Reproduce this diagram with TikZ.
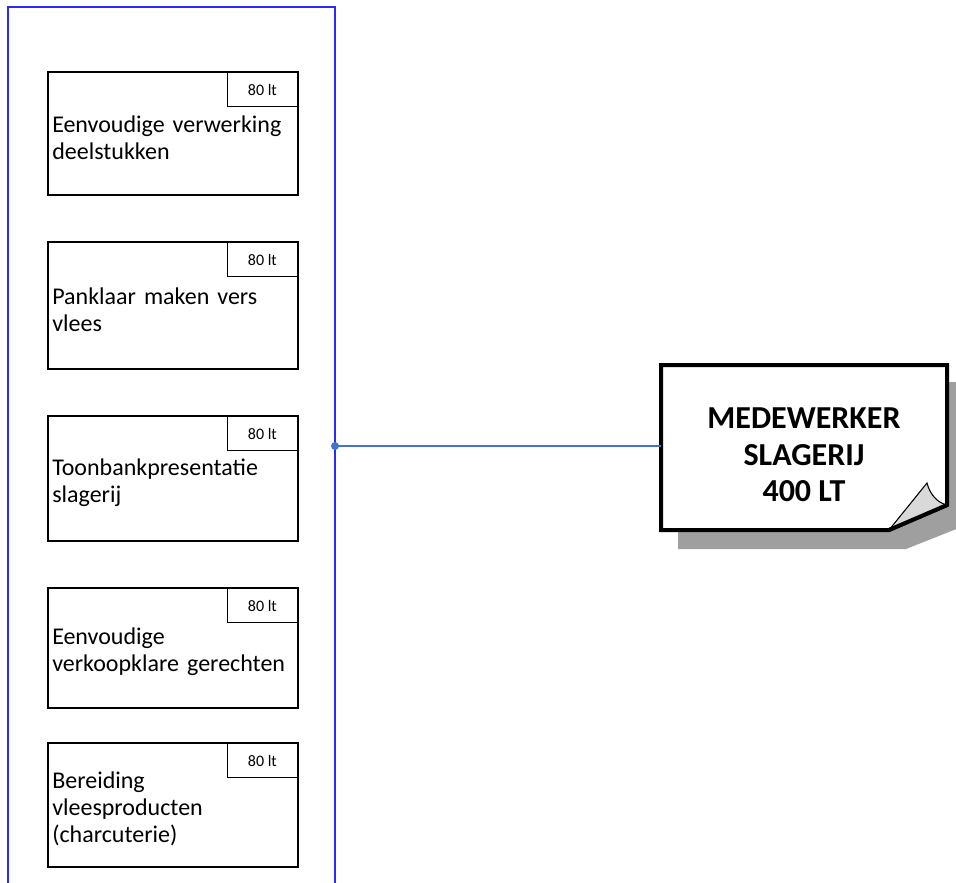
\documentclass[tikz,border=0pt]{standalone}
\usepackage{fontspec}
\setmainfont{Carlito}
\begin{document}
\begin{tikzpicture}[x=0.75pt,y=-0.75pt,
  taskbox/.style={draw=black,line width=0.9pt,fill=white},
  ltbox/.style={draw=black,line width=0.9pt,fill=white,minimum width=70*0.75pt,minimum height=34*0.75pt,inner sep=0pt,font=\fontsize{12}{14}\selectfont},
  tasktext/.style={anchor=west,align=left,text width=240*0.75pt,inner sep=0pt,font=\fontsize{18}{20.3}\selectfont},
  conn/.style={draw={rgb,255:red,68;green,114;blue,196},line width=0.9pt}]
\useasboundingbox (0,0) rectangle (956,882);
\definecolor{contblue}{RGB}{40,40,255}
\definecolor{connblue}{RGB}{68,114,196}
% container
\draw[contblue,line width=1pt] (335,900) -- (335,7) -- (8,7) -- (8,900);
\coordinate (cont) at (335,446);
% task boxes
\foreach \i/\t/\b/\txt in {1/72/195/{Eenvoudige verwerking\\deelstukken},
  2/242/369/{Panklaar maken vers\\vlees},
  3/416/541/{Toonbankpresentatie\\slagerij},
  4/588/708/{Eenvoudige\\verkoopklare gerechten},
  5/743/867/{Bereiding\\vleesproducten\\(charcuterie)}}{
  \draw[taskbox] (48,\t) rectangle (298,\b);
  \node[ltbox,anchor=north east] (lt\i) at (298,\t) {80 lt};
  \node[tasktext] (task\i) at (52,{(\t+\b)/2+4}) {\txt};
}
% main box shadow
\fill[gray!75] (678,382) -- (974,382) -- (974,522) -- (906,549) -- (678,549) -- cycle;
% main box
\draw[line width=3pt,fill=white,line join=miter] (661,365) -- (947,365) -- (947,505) -- (889,530) -- (661,530) -- cycle;
% fold
\draw[line width=0.8pt,fill=gray!30] (889,530) -- (927,483) .. controls (930,495) and (938,503) .. (947,505) -- cycle;
\draw[line width=3pt] (947,505) -- (889,530);
\node[font=\bfseries\fontsize{24}{27.5}\selectfont,align=center] (main) at (804,455) {MEDEWERKER\\SLAGERIJ\\400 LT};
\coordinate (mainw) at (661,446);
% connector
\draw[conn] (cont) -- (mainw);
\fill[connblue] (cont) circle (4);
\end{tikzpicture}
\end{document}
